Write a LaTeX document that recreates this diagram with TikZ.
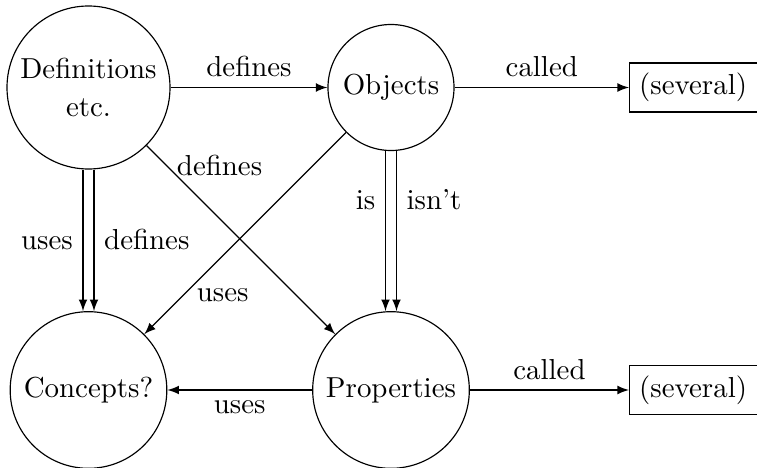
\documentclass[tikz,border=0pt]{standalone}
\usetikzlibrary{arrows}
\begin{document}
\begin{tikzpicture}[x=0.346pt,y=-0.346pt,
  concept/.style={draw, circle, inner sep=0pt, align=center},
  namebox/.style={draw, rectangle, anchor=west, text width=40pt, align=left, minimum height=17pt},
  link/.style={-latex},
  side/.style={text height=7pt, text depth=0pt}]
\useasboundingbox (0,0) rectangle (757,468);
% the four notions
\node[concept, minimum size=56.4pt] (def) at (88.5,87.5) {Definitions\\[1pt] etc.};
\node[concept, minimum size=43.6pt] (obj) at (391,87.5) {Objects};
\node[concept, minimum size=54.2pt] (con) at (88.5,390) {Concepts?};
\node[concept, minimum size=54.2pt] (prop) at (391,390) {Properties};
% names (the boxes run on past the right edge)
\node[namebox] (objnames) at (629,87.5) {(several)};
\node[namebox] (propnames) at (629,390) {(several)};
% relations
\draw[link] (def) -- node[above] {defines} (obj);
\draw[link] (obj) -- node[above] {called} (objnames);
\draw[link] (prop) -- node[above] {called} (propnames);
\draw[link] (prop) -- node[below] {uses} (con);
\draw[link] ([xshift=-1.9pt]def.south) -- node[left, side, pos=0.49] {uses} ([xshift=-1.9pt]con.north);
\draw[link] ([xshift=1.9pt]def.south) -- node[right, side, pos=0.49] {defines} ([xshift=1.9pt]con.north);
\draw[link] ([xshift=-1.9pt]obj.south) -- node[left, side, pos=0.3] {is} ([xshift=-1.9pt]prop.north);
\draw[link] ([xshift=1.9pt]obj.south) -- node[right, side, pos=0.3] {isn't} ([xshift=1.9pt]prop.north);
\draw[link] (def) -- node[right, side, pos=0.107] {defines} (prop);
\draw[link] (obj) -- node[right, side, pos=0.79] {uses} (con);
\end{tikzpicture}
\end{document}
